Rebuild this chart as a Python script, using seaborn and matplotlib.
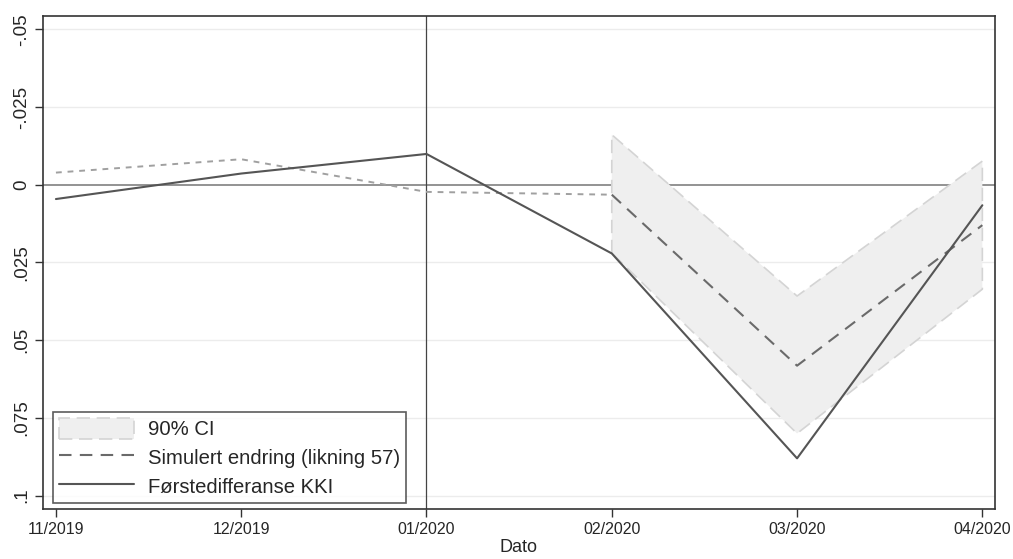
import pandas as pd
import numpy as np
import matplotlib
matplotlib.use("Agg")
import matplotlib.pyplot as plt
import seaborn as sns
from matplotlib.patches import Patch
from matplotlib.lines import Line2D

# data (y axis is shown inverted)
dates = ["11/2019", "12/2019", "01/2020", "02/2020", "03/2020", "04/2020"]
kki_diff = [0.0046, -0.0036, -0.0099, 0.0221, 0.0880, 0.0066]
sim_pre = [-0.0039, -0.0082, 0.0023, 0.0032]
sim_post = [0.0032, 0.0582, 0.0130]
ci_low = [-0.0161, 0.0358, -0.0076]
ci_high = [0.0220, 0.0800, 0.0336]

df = pd.DataFrame({"t": range(len(dates)), "dato": dates, "kki": kki_diff})
pre = pd.DataFrame({"t": range(len(sim_pre)), "sim": sim_pre})
post = pd.DataFrame({"t": range(3, 3 + len(sim_post)), "sim": sim_post,
                     "lo": ci_low, "hi": ci_high})

sns.set_theme(style="white")
plt.rcParams['font.family'] = ['Liberation Sans', 'DejaVu Sans']

fig = plt.figure(figsize=(10.13, 5.59), dpi=100)
ax = fig.add_axes([0.0424, 0.0894, 0.9396, 0.8816])

for v in [-0.05, -0.025, 0.025, 0.05, 0.075, 0.1]:
    ax.axhline(v, color="#ececec", lw=1, zorder=0)
ax.axhline(0, color="#8a8a8a", lw=1.3, zorder=1)
ax.axvline(2, color="#444444", lw=0.9, zorder=1)

ax.fill_between(post["t"], post["lo"], post["hi"], facecolor="#efefef",
                edgecolor="#d4d4d4", linestyle=(0, (8, 4)), lw=1.2, zorder=2)
sns.lineplot(data=pre, x="t", y="sim", ax=ax, color="#a0a0a0", lw=1.4,
             linestyle=(0, (3, 3)), zorder=3)
sns.lineplot(data=post, x="t", y="sim", ax=ax, color="#6a6a6a", lw=1.5,
             linestyle=(0, (6, 4)), zorder=4)
sns.lineplot(data=df, x="t", y="kki", ax=ax, color="#555555", lw=1.5, zorder=5)

ax.set_xlim(-0.07, 5.067)
ax.set_ylim(0.1043, -0.0542)
ax.set_xticks(df["t"])
ax.set_xticklabels(dates, fontsize=11.5)
ax.set_yticks([-0.05, -0.025, 0, 0.025, 0.05, 0.075, 0.1])
ax.set_yticklabels(["-.05", "-.025", "0", ".025", ".05", ".075", ".1"],
                   rotation=90, va="center", fontsize=13.5)
ax.tick_params(axis="both", length=6, width=1, color="#333333",
               direction="out", bottom=True, left=True, pad=3)
ax.set_xlabel("Dato", fontsize=13, labelpad=2)
ax.set_ylabel("")
for s in ax.spines.values():
    s.set_color("#333333")
    s.set_linewidth(1.2)

handles = [
    Patch(facecolor="#efefef", edgecolor="#d4d4d4", linestyle=(0, (8, 4)), lw=1.2),
    Line2D([], [], color="#6a6a6a", lw=1.5, linestyle=(0, (6, 4))),
    Line2D([], [], color="#555555", lw=1.5),
]
labels = ["90% CI", "Simulert endring (likning 57)", "Førstedifferanse KKI"]
leg = ax.legend(handles, labels, loc="lower left", bbox_to_anchor=(0.004, 0.0),
                fontsize=14.6, frameon=True, fancybox=False, handlelength=3.7,
                handleheight=1.2, labelspacing=0.38, borderpad=0.3,
                handletextpad=0.7, borderaxespad=0.3)
leg.get_frame().set_edgecolor("#333333")
leg.get_frame().set_linewidth(1.2)

plt.savefig("out.png", dpi=100)
